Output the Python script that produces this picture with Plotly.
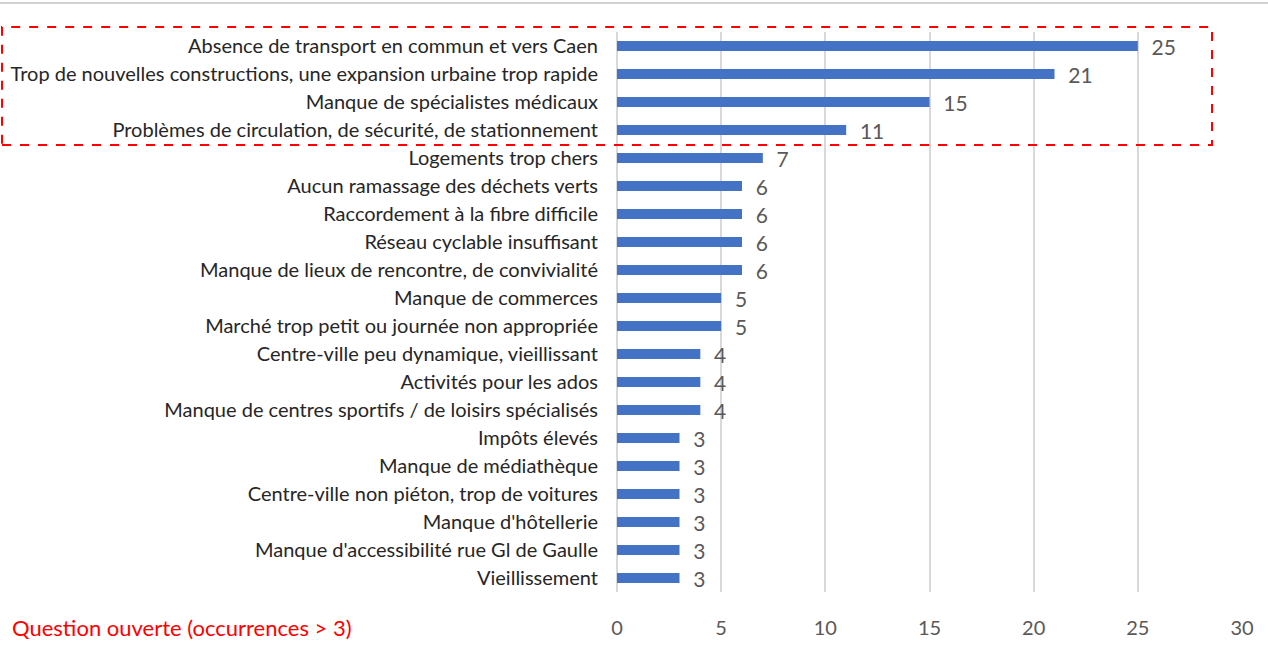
import plotly.graph_objects as go

categories = [
    "Absence de transport en commun et vers Caen",
    "Trop de nouvelles constructions, une expansion urbaine trop rapide",
    "Manque de spécialistes médicaux",
    "Problèmes de circulation, de sécurité, de stationnement",
    "Logements trop chers",
    "Aucun ramassage des déchets verts",
    "Raccordement à la fibre difficile",
    "Réseau cyclable insuffisant",
    "Manque de lieux de rencontre, de convivialité",
    "Manque de commerces",
    "Marché trop petit ou journée non appropriée",
    "Centre-ville peu dynamique, vieillissant",
    "Activités pour les ados",
    "Manque de centres sportifs / de loisirs spécialisés",
    "Impôts élevés",
    "Manque de médiathèque",
    "Centre-ville non piéton, trop de voitures",
    "Manque d'hôtellerie",
    "Manque d'accessibilité rue Gl de Gaulle",
    "Vieillissement",
]
values = [25, 21, 15, 11, 7, 6, 6, 6, 6, 5, 5, 4, 4, 4, 3, 3, 3, 3, 3, 3]
x_ticks = [0, 5, 10, 15, 20, 25, 30]
note = "Question ouverte (occurrences > 3)"

FONT = "Lato"

fig = go.Figure(go.Bar(
    x=values, y=categories, orientation="h",
    marker=dict(color="#4472C4", line=dict(width=0)),
    width=0.36,
    text=values, texttemplate="  %{text}", textposition="outside",
    constraintext="none",
    textfont=dict(family=FONT, size=21, color="#595959"),
    cliponaxis=False,
    hoverinfo="skip",
))

fig.update_layout(
    width=1268, height=650,
    margin=dict(l=617, r=26, t=32, b=58),
    paper_bgcolor="white", plot_bgcolor="white",
    showlegend=False,
    font=dict(family=FONT),
    bargap=0.64,
    xaxis=dict(
        range=[0, 30], tickvals=x_ticks, showgrid=True,
        gridcolor="#D9D9D9", gridwidth=2, zeroline=True,
        zerolinecolor="#D9D9D9", zerolinewidth=2, showline=False,
        tickfont=dict(family=FONT, size=20, color="#595959"),
        ticks="", ticklabelstandoff=22, fixedrange=True,
    ),
    yaxis=dict(
        autorange="reversed", showgrid=False, showline=False, ticks="",
        tickfont=dict(family=FONT, size=20, color="#262626"),
        ticklabelstandoff=18, fixedrange=True,
    ),
    shapes=[
        dict(type="rect", xref="paper", yref="paper",
             x0=-0.984, x1=0.952, y0=0.798, y1=1.009,
             line=dict(color="#FF0000", width=2, dash="dash")),
        dict(type="line", xref="paper", yref="paper",
             x0=-0.988, x1=1.042, y0=1.052, y1=1.052,
             line=dict(color="#D0D0D0", width=2)),
    ],
    annotations=[
        dict(text=note, xref="paper", yref="paper",
             x=-0.971, y=-0.064, xanchor="left", yanchor="middle",
             showarrow=False,
             font=dict(family=FONT, size=22, color="#FF0000")),
    ],
)

fig.write_html(
    "out.html",
    config={"displayModeBar": False},
    post_script="document.body.style.margin='0';document.body.style.overflow='hidden';",
)
